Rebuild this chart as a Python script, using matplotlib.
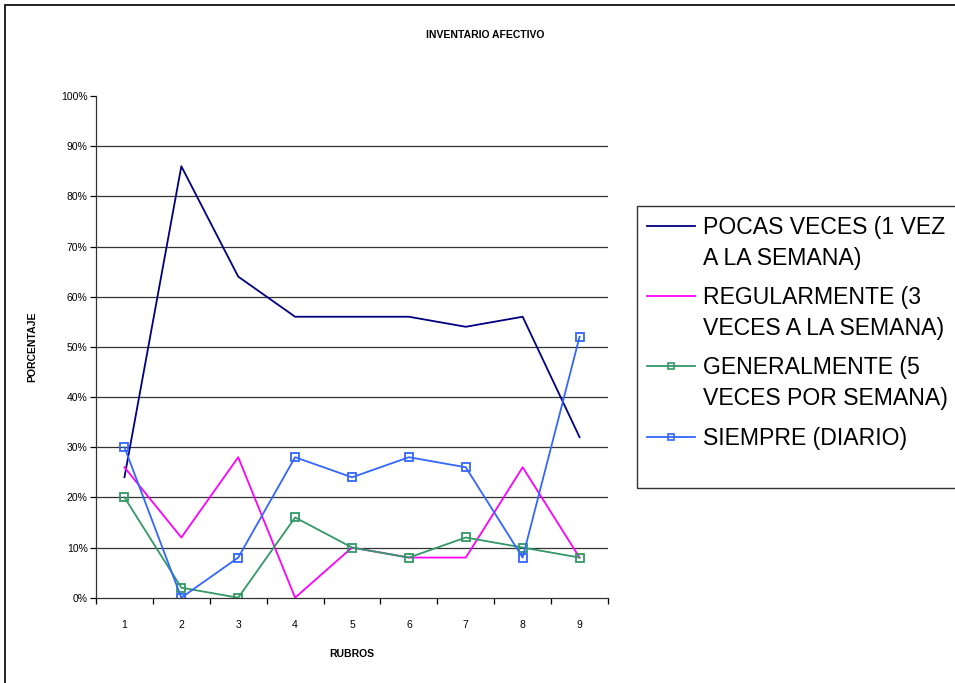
import matplotlib
matplotlib.use('Agg')
import matplotlib.pyplot as plt
from matplotlib.lines import Line2D
from matplotlib.patches import Rectangle
from matplotlib.ticker import FixedLocator, PercentFormatter

plt.rcParams['font.family'] = ['Liberation Sans', 'DejaVu Sans']

rubros = [1, 2, 3, 4, 5, 6, 7, 8, 9]
pocas = [24, 86, 64, 56, 56, 56, 54, 56, 32]
regular = [26, 12, 28, 0, 10, 8, 8, 26, 8]
general = [20, 2, 0, 16, 10, 8, 12, 10, 8]
siempre = [30, 0, 8, 28, 24, 28, 26, 8, 52]
labels = ['POCAS VECES (1 VEZ\nA LA SEMANA)',
          'REGULARMENTE (3\nVECES A LA SEMANA)',
          'GENERALMENTE (5\nVECES POR SEMANA)',
          'SIEMPRE (DIARIO)']

W, H = 955, 683
fig = plt.figure(figsize=(W / 100, H / 100), dpi=100)

# outer chart border (runs off the right and bottom edges)
fig.patches.append(Rectangle((5 / W, -0.1), 1.1, 1 - 5 / H + 0.1,
                             transform=fig.transFigure, fill=False,
                             edgecolor='black', linewidth=1.2))

ax = fig.add_axes([96 / W, 1 - 597.7 / H, 512 / W, 501.7 / H])

styles = [dict(color='#000080'),
          dict(color='#FF00FF'),
          dict(color='#339966', marker='s', markerfacecolor='none'),
          dict(color='#3366FF', marker='s', markerfacecolor='none')]
for vals, st in zip([pocas, regular, general, siempre], styles):
    ax.plot(rubros, vals, linewidth=1.3, markersize=6, markeredgewidth=1.3,
            **st)

ax.set_xlim(0.5, 9.5)
ax.set_ylim(0, 100)
ax.set_yticks(range(0, 101, 10))
ax.yaxis.set_major_formatter(PercentFormatter(decimals=0))
for g in range(10, 100, 10):
    ax.axhline(g, color='#333333', linewidth=0.9, zorder=0)

ax.set_xticks(rubros)
ax.xaxis.set_minor_locator(FixedLocator([i + 0.5 for i in range(0, 10)]))
ax.tick_params(axis='x', which='major', length=0, pad=16, labelsize=7.5)
ax.tick_params(axis='x', which='minor', length=4, direction='out', width=0.9)
ax.tick_params(axis='y', length=4, direction='out', width=0.9, pad=2,
               labelsize=7.5)

for s in ['top', 'right']:
    ax.spines[s].set_visible(False)
for s in ['left', 'bottom']:
    ax.spines[s].set_linewidth(0.9)
    ax.spines[s].set_color('#333333')

ax.set_xlabel('RUBROS', fontsize=7.5, fontweight='bold', labelpad=14)
ax.set_ylabel('PORCENTAJE', fontsize=7.5, fontweight='bold', labelpad=17)

fig.text(485 / W, 1 - 35 / H, 'INVENTARIO AFECTIVO', fontsize=7.5,
         fontweight='bold', ha='center', va='center')

# legend, Excel style: handle sits on the first line of each label
fig.patches.append(Rectangle((637 / W, 1 - 488 / H), 0.5, (488 - 206) / H,
                             transform=fig.transFigure, fill=False,
                             edgecolor='#333333', linewidth=1.0))
entry_y = [226, 296, 366, 437]
for lab, st, yy in zip(labels, styles, entry_y):
    y = 1 - yy / H
    fig.add_artist(Line2D([647 / W, 695 / W], [y, y], linewidth=1.3,
                          color=st['color'], transform=fig.transFigure))
    if 'marker' in st:
        fig.add_artist(Line2D([671 / W], [y], marker='s', markersize=4.5,
                              markeredgewidth=1.2, markerfacecolor='none',
                              color=st['color'], transform=fig.transFigure))
    fig.text(703 / W, 1 - (yy - 10) / H, lab, fontsize=16.6,
             va='top', ha='left', linespacing=1.45)

fig.savefig('out.png', dpi=100)
